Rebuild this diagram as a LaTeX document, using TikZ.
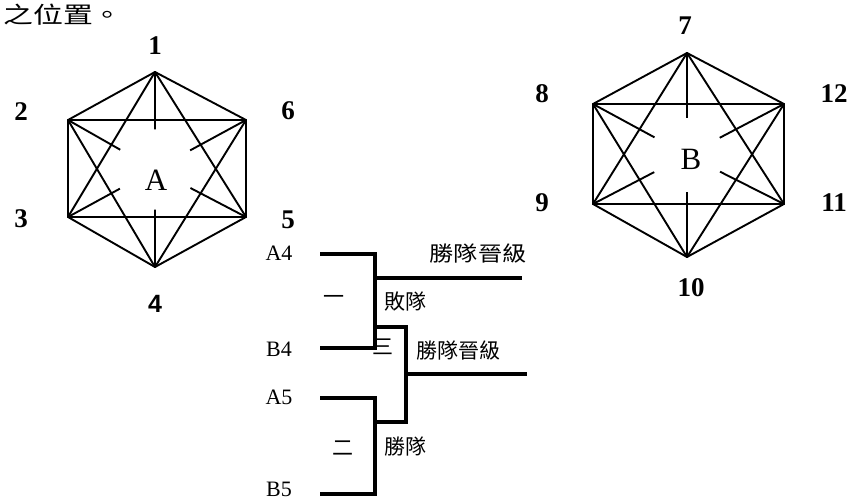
\documentclass[tikz,border=0pt]{standalone}
\usepackage{fontspec}
\setmainfont{Liberation Serif}
\newfontfamily\cjk{Noto Sans CJK TC}
\newfontfamily\arialf{Liberation Sans}
\begin{document}
\begin{tikzpicture}[x=1pt,y=-1pt,
  edge/.style={line width=1.9pt, line join=round},
  brk/.style={line width=3.4pt, line join=miter},
  num/.style={font=\fontsize{27}{27}\selectfont\bfseries, inner sep=0pt},
  big/.style={font=\fontsize{31}{31}\selectfont, inner sep=0pt},
  team/.style={font=\fontsize{22}{22}\selectfont, inner sep=0pt},
  zh/.style={font=\cjk\fontsize{21}{21}\selectfont, inner sep=0pt},
  hole/.style={circle, inner sep=0pt, outer sep=0pt}
]
\useasboundingbox (0,0) rectangle (851,500);

% title
\node[anchor=west, inner sep=0pt, xscale=1.3, font=\cjk\fontsize{23}{23}\selectfont] (title) at (3,15) {之位置。};

% ---- hexagon A ----
\coordinate (a1) at (155,72);
\coordinate (a2) at (68,120);
\coordinate (a3) at (68,217);
\coordinate (a4) at (155,267);
\coordinate (a5) at (246,217);
\coordinate (a6) at (246,120);
\node[hole, minimum size=80pt] (ac) at (155,169.5) {};
\draw[edge] (a1)--(a2)--(a3)--(a4)--(a5)--(a6)--cycle;
\draw[edge] (a1)--(a3)--(a5)--cycle;
\draw[edge] (a2)--(a4)--(a6)--cycle;
\draw[edge] (a1)--(ac) (a4)--(ac) (a2)--(ac) (a5)--(ac) (a3)--(ac) (a6)--(ac);
\node[big] (la) at (156,180) {A};
\node[num] (n1) at (155,46) {1};
\node[num] (n2) at (21,112) {2};
\node[num] (n3) at (21,219) {3};
\node[num, font=\arialf\fontsize{25}{25}\selectfont\bfseries] (n4) at (155,304) {4};
\node[num] (n5) at (288,220) {5};
\node[num] (n6) at (288,111) {6};

% ---- hexagon B ----
\coordinate (b7) at (687,53);
\coordinate (b8) at (593,104);
\coordinate (b9) at (593,204);
\coordinate (b10) at (687,257);
\coordinate (b11) at (784,204);
\coordinate (b12) at (784,104);
\node[hole, minimum size=74pt] (bc) at (687,155) {};
\draw[edge] (b7)--(b8)--(b9)--(b10)--(b11)--(b12)--cycle;
\draw[edge] (b7)--(b9)--(b11)--cycle;
\draw[edge] (b8)--(b10)--(b12)--cycle;
\draw[edge] (b7)--(bc) (b10)--(bc) (b8)--(bc) (b11)--(bc) (b9)--(bc) (b12)--(bc);
\node[big] (lb) at (691,159) {B};
\node[num] (n7) at (685,26) {7};
\node[num] (n8) at (542,94) {8};
\node[num] (n9) at (542,203) {9};
\node[num] (n10) at (691,288) {10};
\node[num] (n11) at (834,203) {11};
\node[num] (n12) at (834,94) {12};

% ---- bracket ----
\node[team] (tA4) at (279,253) {A4};
\node[team] (tB4) at (279,349) {B4};
\node[team] (tA5) at (279,397) {A5};
\node[team] (tB5) at (279,489) {B5};

\coordinate (pA4) at (320,254);
\coordinate (pB4) at (320,348);
\coordinate (pA5) at (320,398);
\coordinate (pB5) at (320,494);
\coordinate (j1t) at (375,254);
\coordinate (j1b) at (375,348);
\coordinate (j2t) at (375,398);
\coordinate (j2b) at (375,494);
\coordinate (w1s) at (375,278);
\coordinate (w1e) at (522,278);
\coordinate (l1) at (375,327);
\coordinate (l2) at (406,327);
\coordinate (l3) at (406,422);
\coordinate (l4) at (375,422);
\coordinate (w3s) at (406,374);
\coordinate (w3e) at (527,374);

\draw[brk] (pA4)--(j1t)--(j1b)--(pB4);
\draw[brk] (pA5)--(j2t)--(j2b)--(pB5);
\draw[brk] (w1s)--(w1e);
\draw[brk] (l1)--(l2)--(l3)--(l4);
\draw[brk] (w3s)--(w3e);

\node[zh] (g1) at (334,300) {一};
\node[zh] (g2) at (343,448) {二};
\node[zh] (g3) at (383,347) {三};
\node[zh] (lose) at (405,302) {敗隊};
\node[zh] (win2) at (405,447) {勝隊};
\node[zh, xscale=1.15] (adv1) at (478,254) {勝隊晉級};
\node[zh] (adv3) at (458,351) {勝隊晉級};
\end{tikzpicture}
\end{document}
